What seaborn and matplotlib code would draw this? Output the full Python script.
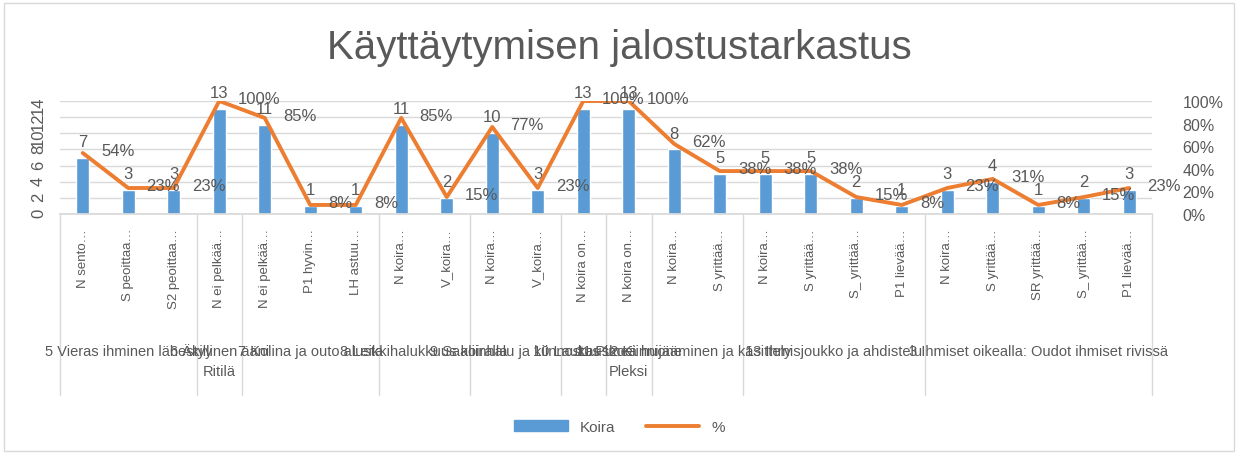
import numpy as np
import pandas as pd
import seaborn as sns
import matplotlib.pyplot as plt
from matplotlib.patches import Rectangle, Patch
from matplotlib.lines import Line2D
import matplotlib.transforms as mtransforms

# data
kohdat = ["N sento…", "S peoittaa…", "S2 peoittaa…", "N ei pelkää…", "N ei pelkää…",
          "P1 hyvin…", "LH astuu…", "N koira…", "V_koira…", "N koira…", "V_koira…",
          "N koira on…", "N koira on…", "N koira…", "S yrittää…", "N koira…",
          "S yrittää…", "S_ yrittää…", "P1 lievää…", "N koira…", "S yrittää…",
          "SR yrittää…", "S_ yrittää…", "P1 lievää…"]
koira = [7, 3, 3, 13, 11, 1, 1, 11, 2, 10, 3, 13, 13, 8, 5, 5, 5, 2, 1, 3, 4, 1, 2, 3]
prosentti = [54, 23, 23, 100, 85, 8, 8, 85, 15, 77, 23, 100, 100, 62, 38, 38, 38, 15, 8,
             23, 31, 8, 15, 23]

# second level groups: (label, first index, last index)
ryhmat = [("5 Vieras ihminen lähestyy", 0, 2),
          ("6 Äkillinen ääni", 3, 3),
          ("7 Kolina ja outo alusta", 4, 6),
          ("8 Leikkihalukkuus koiralla", 7, 8),
          ("9 Saaliinhalu ja kiinnostus", 9, 10),
          ("10 Laukauskoe", 11, 11),
          ("11 Pimeä huone", 12, 12),
          ("12 Kiinnijääminen ja käsittely", 13, 14),
          ("13 Ihmisjoukko ja ahdistelu", 15, 18),
          ("3 Ihmiset oikealla: Oudot ihmiset rivissä", 19, 23)]
alustat = [("Ritilä", 0, 6), ("Pleksi", 7, 17)]

df = pd.DataFrame({"idx": np.arange(len(koira)), "Koira": koira, "pct": prosentti})

sns.set_theme(style="white")
plt.rcParams["font.family"] = ["Liberation Sans", "DejaVu Sans"]
harmaa = "#595959"
sininen = "#5B9BD5"
oranssi = "#ED7D31"

fig = plt.figure(figsize=(12.39, 4.56), dpi=100)
fig.patches.append(Rectangle((4 / 1239, 4 / 456), 1230 / 1239, 448 / 456,
                             transform=fig.transFigure, fill=False,
                             edgecolor="#D9D9D9", lw=1))
ax = fig.add_axes([60 / 1239, 1 - 215 / 456, 1092 / 1239, 113 / 456])

sns.barplot(data=df, x="idx", y="Koira", color=sininen, width=0.28,
            saturation=1, ax=ax, zorder=2)
ax.set_ylim(0, 14)
ax.set_xlim(-0.5, len(koira) - 0.5)
ax.set_yticks(range(0, 15, 2))
ax.yaxis.grid(True, color="#D9D9D9", lw=1)
ax.set_axisbelow(True)
for s in ax.spines.values():
    s.set_visible(False)
ax.spines["bottom"].set_visible(True)
ax.spines["bottom"].set_color("#D9D9D9")
ax.tick_params(axis="y", labelrotation=90, labelsize=12, colors=harmaa, length=0, pad=10)
ax.set_xticks(range(len(koira)))
ax.set_xticklabels(kohdat, rotation=90, fontsize=9.5, color=harmaa, va="top")
ax.tick_params(axis="x", length=0, pad=10)
ax.set_xticks(np.arange(-0.5, len(koira), 1), minor=True)
ax.tick_params(axis="x", which="minor", length=8, color="#D9D9D9", width=1)
ax.set_xlabel("")
ax.set_ylabel("")

for i, v in enumerate(koira):
    ax.text(i, v + 1.1, str(v), ha="center", va="bottom", fontsize=12, color=harmaa)

ax2 = ax.twinx()
sns.lineplot(data=df, x="idx", y="pct", color=oranssi, lw=2.8, ax=ax2)
ax2.set_ylim(0, 100)
ax2.set_yticks(range(0, 101, 20))
ax2.set_yticklabels([f"{t}%" for t in range(0, 101, 20)])
ax2.tick_params(axis="y", labelsize=11.5, colors=harmaa, length=0, pad=22)
for s in ax2.spines.values():
    s.set_visible(False)
ax2.set_ylabel("")
ax2.set_xlabel("")
for i, p in enumerate(prosentti):
    ax2.text(i + 0.4, p + 2, f"{p}%", ha="left", va="center", fontsize=12, color=harmaa)

# group separators and labels below the axis
tr = mtransforms.blended_transform_factory(ax.transData, ax.transAxes)
rajat = sorted({g[1] - 0.5 for g in ryhmat} | {len(koira) - 0.5})
for r in rajat:
    ax.plot([r, r], [0, -1.6], transform=tr, color="#D9D9D9", lw=1, clip_on=False)
for nimi, a, b in ryhmat:
    ax.text((a + b) / 2, -1.21, nimi, transform=tr, ha="center", va="center",
            fontsize=10.5, color=harmaa)
for nimi, a, b in alustat:
    ax.text((a + b) / 2, -1.39, nimi, transform=tr, ha="center", va="center",
            fontsize=10.5, color=harmaa)

fig.text(0.5, 1 - 48 / 456, "Käyttäytymisen jalostustarkastus", ha="center",
         va="center", fontsize=29, color=harmaa)

kahvat = [Patch(color=sininen), Line2D([], [], color=oranssi, lw=2.8)]
fig.legend(kahvat, ["Koira", "%"], loc="center", bbox_to_anchor=(0.5, 1 - 428 / 456),
           ncol=2, frameon=False, fontsize=11, labelcolor=harmaa, handlelength=3.5,
           columnspacing=2)

fig.savefig("out.png", dpi=100)
